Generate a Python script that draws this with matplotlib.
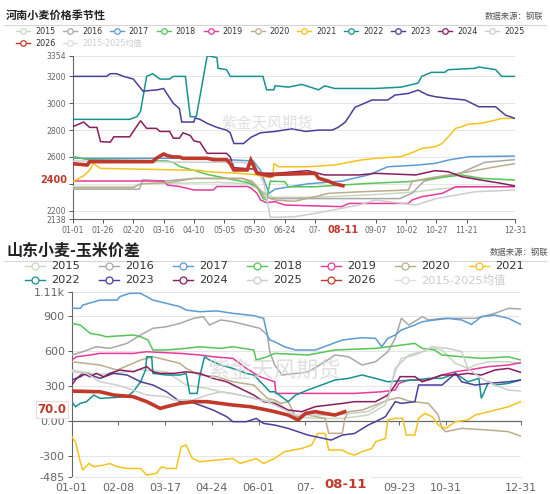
import matplotlib
matplotlib.use('Agg')
import matplotlib.pyplot as plt
import matplotlib.transforms as mtransforms
from matplotlib.lines import Line2D

plt.rcParams['font.family'] = ['DejaVu Sans', 'Noto Sans CJK SC']
plt.rcParams['axes.unicode_minus'] = False

# ---------------- data: (day of year, value) ----------------
YEARS = ['2015', '2016', '2017', '2018', '2019', '2020', '2021', '2022', '2023', '2024', '2025', '2026']
AVG_LABEL = '2015-2025均值'
YEAR_COLORS = ['#c6d9bf', '#a8a8a8', '#5b9bd5', '#55c555', '#e8399a', '#bcac8c',
               '#f6c21c', '#17928f', '#4a3e9b', '#8a1c5e', '#cdcdcd', '#c0392b']

# 河南小麦价格
HN_2015 = [(0, 2380), (50, 2380), (56, 2400), (120, 2410), (145, 2400), (155, 2350), (165, 2300),
           (200, 2300), (250, 2320), (283, 2340), (300, 2360), (330, 2380), (365, 2380)]
HN_2016 = [(0, 2360), (55, 2360), (58, 2430), (75, 2420), (100, 2440), (140, 2440), (150, 2400),
           (158, 2300), (167, 2290), (270, 2290), (280, 2330), (290, 2420), (320, 2480), (340, 2560), (365, 2580)]
HN_2017 = [(0, 2590), (115, 2590), (127, 2580), (149, 2570), (155, 2500), (162, 2330), (167, 2360),
           (194, 2400), (222, 2420), (244, 2466), (260, 2527), (285, 2540), (299, 2552), (310, 2577),
           (327, 2602), (365, 2607)]
HN_2018 = [(0, 2605), (12, 2580), (78, 2570), (83, 2560), (88, 2530), (100, 2500), (111, 2470),
           (122, 2450), (133, 2430), (144, 2410), (152, 2380), (157, 2290), (160, 2280), (163, 2420),
           (175, 2416), (178, 2378), (200, 2378), (222, 2391), (244, 2403), (277, 2416), (299, 2441),
           (321, 2466), (337, 2441), (365, 2428)]
HN_2019 = [(0, 2421), (75, 2421), (78, 2391), (88, 2380), (100, 2354), (116, 2354), (119, 2380),
           (144, 2380), (147, 2370), (152, 2330), (155, 2280), (160, 2260), (167, 2267), (175, 2242),
           (222, 2230), (228, 2254), (277, 2254), (280, 2279), (288, 2304), (305, 2329), (316, 2378), (365, 2378)]
HN_2020 = [(0, 2370), (50, 2370), (56, 2400), (80, 2410), (100, 2440), (140, 2440), (148, 2420),
           (152, 2380), (157, 2330), (163, 2290), (167, 2279), (183, 2270), (200, 2304), (211, 2329),
           (238, 2341), (277, 2354), (280, 2416), (293, 2441), (310, 2466), (327, 2490), (349, 2527), (365, 2550)]
HN_2021 = [(0, 2416), (9, 2460), (14, 2500), (17, 2552), (23, 2515), (105, 2500), (111, 2490),
           (133, 2480), (149, 2470), (160, 2450), (165, 2450), (166, 2552), (170, 2527), (194, 2527),
           (216, 2540), (238, 2577), (250, 2590), (271, 2602), (282, 2639), (288, 2664), (299, 2676),
           (305, 2701), (310, 2751), (316, 2813), (321, 2825), (327, 2845), (337, 2850), (349, 2875),
           (354, 2887), (365, 2887)]
HN_2022 = [(0, 2880), (47, 2880), (53, 2900), (56, 2940), (61, 3200), (66, 3220), (72, 3180),
           (80, 3180), (83, 3200), (93, 3200), (97, 2900), (102, 2900), (105, 3050), (111, 3354),
           (119, 3340), (120, 3260), (127, 3250), (130, 3200), (157, 3200), (160, 3100), (166, 3100),
           (167, 3130), (178, 3120), (189, 3140), (203, 3100), (208, 3130), (216, 3110), (250, 3110),
           (271, 3120), (285, 3150), (288, 3200), (296, 3230), (307, 3230), (310, 3250), (332, 3260),
           (335, 3270), (349, 3250), (354, 3200), (365, 3200)]
HN_2023 = [(0, 3200), (28, 3200), (31, 3220), (36, 3220), (42, 3200), (50, 3180), (58, 3090),
           (70, 3100), (75, 3110), (80, 3040), (83, 3000), (88, 2960), (90, 2860), (100, 2860),
           (101, 2890), (105, 2880), (111, 2850), (119, 2820), (127, 2800), (130, 2780), (133, 2700),
           (141, 2700), (147, 2746), (155, 2780), (167, 2790), (181, 2810), (192, 2790), (203, 2800),
           (214, 2800), (219, 2820), (225, 2860), (233, 2970), (247, 3024), (260, 3024), (266, 3061),
           (277, 3073), (285, 3098), (293, 3061), (299, 3049), (310, 3036), (324, 3024), (335, 2974),
           (349, 2974), (357, 2912), (365, 2887)]
HN_2024 = [(0, 2825), (9, 2860), (14, 2820), (20, 2820), (23, 2714), (31, 2710), (34, 2750),
           (47, 2750), (56, 2870), (61, 2813), (69, 2813), (72, 2790), (80, 2790), (83, 2740),
           (88, 2740), (91, 2780), (97, 2760), (100, 2720), (105, 2710), (111, 2627), (127, 2627),
           (130, 2600), (133, 2520), (149, 2510), (155, 2480), (167, 2478), (194, 2498), (208, 2466),
           (236, 2466), (250, 2478), (283, 2466), (299, 2498), (310, 2490), (321, 2453), (337, 2428),
           (354, 2403), (365, 2384)]
HN_2025 = [(0, 2570), (60, 2565), (100, 2560), (140, 2560), (150, 2540), (158, 2400), (163, 2150),
           (183, 2155), (200, 2180), (236, 2242), (250, 2279), (283, 2242), (300, 2290), (332, 2341), (365, 2354)]
HN_2026 = [(0, 2550), (12, 2540), (14, 2565), (66, 2565), (69, 2590), (75, 2622), (78, 2610),
           (83, 2600), (88, 2600), (91, 2590), (111, 2590), (116, 2580), (127, 2580), (130, 2550),
           (133, 2503), (144, 2503), (147, 2577), (149, 2540), (152, 2480), (157, 2470), (163, 2460),
           (167, 2470), (200, 2478), (203, 2441), (211, 2420), (216, 2400), (223, 2386)]

# 山东小麦-玉米价差
SD_2015 = [(0, 437), (15, 410), (23, 400), (45, 422), (56, 437), (77, 422), (93, 308), (110, 279),
           (121, 250), (131, 236), (148, 193), (165, 165), (170, 136), (182, 36), (198, 21), (220, 21),
           (241, 50), (255, 136), (263, 422), (268, 537), (279, 566), (285, 594), (293, 623), (301, 609),
           (312, 494), (322, 451), (328, 480), (339, 508), (355, 508), (365, 494)]
SD_2016 = [(0, 566), (9, 594), (20, 637), (31, 623), (45, 666), (56, 738), (66, 795), (77, 809),
           (88, 838), (99, 881), (107, 895), (112, 824), (121, 867), (131, 852), (142, 824), (153, 795),
           (159, 738), (161, 594), (165, 480), (171, 394), (192, 420), (206, 508), (214, 566), (225, 551),
           (236, 480), (247, 508), (257, 594), (263, 709), (268, 881), (274, 824), (285, 895), (290, 867),
           (301, 881), (328, 881), (344, 924), (355, 967), (365, 961)]
SD_2017 = [(0, 967), (7, 967), (9, 995), (23, 1038), (37, 1038), (39, 1067), (47, 1096), (56, 1096),
           (61, 1067), (66, 1038), (77, 1010), (88, 981), (93, 952), (104, 938), (118, 945), (131, 924),
           (148, 904), (156, 881), (159, 738), (161, 695), (165, 680), (173, 637), (182, 609), (198, 609),
           (209, 652), (220, 695), (236, 715), (247, 709), (252, 637), (257, 709), (263, 738), (268, 781),
           (279, 824), (285, 852), (295, 867), (306, 881), (317, 867), (325, 829), (333, 895), (344, 909),
           (355, 881), (365, 829)]
SD_2018 = [(0, 838), (7, 823), (15, 752), (23, 738), (28, 723), (50, 738), (56, 723), (62, 695),
           (66, 609), (77, 609), (93, 623), (104, 637), (121, 623), (131, 637), (148, 609), (150, 523),
           (159, 551), (165, 580), (192, 566), (214, 609), (247, 623), (279, 666), (285, 623), (295, 609),
           (301, 566), (317, 551), (333, 537), (355, 551), (365, 523)]
SD_2019 = [(0, 523), (4, 551), (15, 566), (23, 580), (50, 580), (61, 594), (88, 580), (104, 566),
           (115, 551), (131, 537), (142, 451), (153, 379), (165, 336), (166, 236), (230, 236), (252, 250),
           (263, 265), (266, 322), (274, 351), (290, 351), (301, 394), (312, 422), (322, 437), (339, 466),
           (355, 480), (365, 500)]
SD_2020 = [(0, 508), (23, 480), (37, 437), (56, 523), (66, 551), (77, 523), (88, 494), (93, 451),
           (104, 394), (118, 380), (131, 336), (148, 308), (159, 193), (165, 179), (170, 150), (176, 165),
           (182, 36), (192, 50), (206, 21), (209, -107), (220, -107), (222, 21), (225, 79), (236, 93),
           (247, 136), (257, 179), (266, 200), (274, 170), (290, 150), (298, 50), (301, -65), (304, -93),
           (317, -65), (339, -79), (355, -93), (365, -131)]
SD_2021 = [(0, -136), (3, -179), (7, -351), (9, -423), (14, -366), (18, -394), (26, -380), (31, -366),
           (37, -394), (45, -409), (56, -409), (61, -466), (69, -450), (73, -394), (77, -409), (85, -409),
           (89, -222), (93, -208), (98, -323), (104, -351), (118, -337), (131, -323), (137, -366),
           (150, -323), (156, -366), (165, -323), (173, -265), (187, -237), (195, -208), (200, -108),
           (206, -108), (209, -251), (220, -251), (225, -280), (230, -294), (236, -265), (244, -237),
           (247, -179), (255, -151), (257, 8), (263, 22), (269, 22), (272, -122), (279, -122), (282, 22),
           (287, 64), (293, 36), (298, -36), (304, -65), (312, -7), (322, 8), (328, 50), (339, 79),
           (355, 121), (365, 165)]
SD_2022 = [(0, 165), (3, 122), (7, 150), (12, 165), (18, 222), (23, 193), (45, 208), (50, 250),
           (56, 336), (60, 437), (61, 551), (65, 551), (66, 408), (77, 394), (88, 394), (93, 408),
           (96, 236), (102, 236), (104, 379), (108, 551), (112, 523), (121, 480), (131, 451), (142, 408),
           (148, 394), (156, 308), (161, 250), (165, 250), (176, 165), (182, 222), (192, 265), (203, 308),
           (214, 351), (225, 365), (236, 394), (247, 365), (257, 336), (268, 345), (279, 351), (290, 365),
           (301, 365), (312, 408), (322, 336), (331, 365), (333, 193), (339, 336), (344, 308), (355, 322),
           (365, 351)]
SD_2023 = [(0, 351), (7, 379), (12, 408), (23, 365), (34, 408), (45, 394), (56, 336), (66, 308),
           (77, 250), (88, 165), (96, 165), (104, 136), (115, 93), (126, 36), (131, -7), (142, -7),
           (150, 21), (156, -22), (165, -36), (176, -65), (192, -122), (211, -165), (220, -122),
           (230, -108), (241, -36), (247, -7), (255, 36), (263, 165), (268, 150), (279, 165), (282, 308),
           (301, 308), (312, 408), (317, 336), (328, 308), (339, 322), (355, 336), (365, 351)]
SD_2024 = [(0, 308), (4, 365), (9, 408), (15, 379), (20, 408), (26, 379), (31, 408), (39, 437),
           (50, 422), (61, 466), (66, 422), (72, 408), (83, 408), (93, 422), (104, 408), (115, 365),
           (126, 336), (137, 279), (148, 222), (156, 165), (165, 150), (176, 93), (187, 79), (198, 122),
           (209, 136), (220, 150), (230, 165), (247, 165), (257, 222), (263, 308), (267, 380), (279, 380),
           (285, 336), (293, 365), (301, 394), (312, 394), (322, 408), (333, 394), (344, 437), (355, 451),
           (365, 417)]
SD_2025 = [(0, 422), (12, 408), (23, 336), (37, 308), (50, 265), (61, 222), (77, 208), (83, 179),
           (99, 179), (110, 222), (121, 250), (137, 222), (148, 193), (159, 165), (165, 136), (182, 50),
           (214, 50), (241, 80), (257, 180), (263, 451), (274, 566), (285, 595), (293, 637), (306, 623),
           (317, 595), (322, 451), (333, 365), (344, 308), (355, 265), (365, 256)]
SD_2026 = [(0, 256), (23, 250), (34, 222), (50, 208), (61, 165), (72, 107), (77, 122), (88, 150),
           (99, 165), (110, 165), (121, 150), (131, 136), (145, 122), (159, 93), (165, 79), (176, 50),
           (184, 7), (190, 64), (198, 79), (206, 64), (214, 50), (222, 79)]

HN_SERIES = [HN_2015, HN_2016, HN_2017, HN_2018, HN_2019, HN_2020,
             HN_2021, HN_2022, HN_2023, HN_2024, HN_2025, HN_2026]
SD_SERIES = [SD_2015, SD_2016, SD_2017, SD_2018, SD_2019, SD_2020,
             SD_2021, SD_2022, SD_2023, SD_2024, SD_2025, SD_2026]

HN_YTICKS = [2138, 2200, 2400, 2600, 2800, 3000, 3200, 3354]
HN_YLABELS = ['2138', '2200', '', '2600', '2800', '3000', '3200', '3354']
HN_XTICKS = [0, 25, 50, 75, 100, 125, 150, 175, 200, 250, 275, 300, 325, 365]
HN_XLABELS = ['01-01', '01-26', '02-20', '03-16', '04-10', '05-05', '05-30', '06-24', '07-',
              '09-07', '10-02', '10-27', '11-21', '12-31']
HN_LAST = 2400

SD_YTICKS = [-485, -300, 0, 300, 600, 900, 1110]
SD_YLABELS = ['-485', '-300', '0.00', '300', '600', '900', '1.11k']
SD_XTICKS = [0, 38, 76, 114, 152, 190, 266, 304, 365]
SD_XLABELS = ['01-01', '02-08', '03-17', '04-24', '06-01', '07-', '09-23', '10-31', '12-31']
SD_LAST = 70.0

TODAY_DAY = 223
TODAY_LABEL = '08-11'

W, H = 550, 494
fig = plt.figure(figsize=(W / 100, H / 100), dpi=100)


def fx(x):
    return x / W


def fy(y):
    return 1 - y / H


def header(title, ytitle, yline, tsize, src_x):
    fig.text(fx(6), fy(ytitle), title, fontsize=tsize, fontweight='bold', color='#222222',
             family=['Noto Sans CJK SC'], va='center', ha='left')
    fig.text(fx(src_x), fy(ytitle + 1), '数据来源：钢联', fontsize=6, color='#555555',
             family=['Noto Sans CJK SC'], va='center', ha='right')
    fig.add_artist(Line2D([fx(4), fx(546)], [fy(yline), fy(yline)], color='#d5d5d5', lw=0.8))


def legend(rows, x0, dx, text_off, half, fsize, msize):
    k = 0
    labels = YEARS + [AVG_LABEL]
    colors = YEAR_COLORS + ['#dddddd']
    for y, n in rows:
        for j in range(n):
            cx = x0 + dx * j
            c = colors[k]
            fig.add_artist(Line2D([fx(cx - half), fx(cx + half)], [fy(y), fy(y)], color=c, lw=1.0))
            fig.add_artist(Line2D([fx(cx)], [fy(y)], color=c, marker='o', markersize=msize,
                                  markerfacecolor='white', markeredgewidth=0.9, lw=0))
            tc = '#cccccc' if k == len(labels) - 1 else '#333333'
            fig.text(fx(cx + text_off), fy(y), labels[k], fontsize=fsize, color=tc, va='center', ha='left')
            k += 1


def draw_panel(ax, series, ylim, yticks, ylabels, xticks, xlabels, tick_fs, last_val,
               last_label, last_fs, last_box, wm_xy, wm_fs):
    ax.set_xlim(0, 365)
    ax.set_ylim(*ylim)
    for s, c, yr in zip(series, YEAR_COLORS, YEARS):
        d = [p[0] for p in s]
        v = [p[1] for p in s]
        lw = 2.6 if yr == '2026' else 1.1
        ax.plot(d, v, color=c, lw=lw, zorder=5 if yr == '2026' else 3, solid_joinstyle='miter')
    for t in yticks:
        ax.axhline(t, color='#e6e6e6', lw=0.7, zorder=0)
    ax.set_yticks(yticks)
    ax.set_yticklabels(ylabels)
    ax.set_xticks(xticks)
    ax.set_xticklabels(xlabels)
    ax.tick_params(axis='both', labelsize=tick_fs, colors='#555555', length=3, width=0.7,
                   labelcolor='#666666', pad=2)
    for side in ['top', 'right']:
        ax.spines[side].set_visible(False)
    ax.spines['left'].set_color('#666666')
    ax.spines['bottom'].set_color('#666666')
    trans = mtransforms.blended_transform_factory(ax.transAxes, ax.transData)
    trans = trans + mtransforms.ScaledTranslation(0, 2.5 / 72, fig.dpi_scale_trans)
    bbox = dict(boxstyle='square,pad=0.15', fc='white', ec='#ead0d0', lw=0.6) if last_box else None
    ax.text(-0.012, last_val, last_label, transform=trans, ha='right', va='center', color='#c0392b',
            fontsize=last_fs, fontweight='bold', bbox=bbox, zorder=6)
    ax.text(wm_xy[0], wm_xy[1], '紫金天风期货', transform=ax.transAxes, fontsize=wm_fs,
            color='#d8d8d8', family=['Noto Sans CJK SC'], ha='center', va='center', zorder=4, alpha=0.8)
    return ax


# -------- top panel --------
header('河南小麦价格季节性', 15, 25, 8, 543)
legend([(31, 11), (43.5, 2)], 23, 46.9, 12, 7, 5.8, 4)
ax1 = fig.add_axes([fx(72.7), fy(219), fx(515) - fx(72.7), fy(55.7) - fy(219)])
draw_panel(ax1, HN_SERIES, (2138, 3354), HN_YTICKS, HN_YLABELS, HN_XTICKS, HN_XLABELS,
           5.6, HN_LAST, str(HN_LAST), 7, False, (0.44, 0.585), 11)
ax1.text(TODAY_DAY, -0.065, TODAY_LABEL,
         transform=mtransforms.blended_transform_factory(ax1.transData, ax1.transAxes),
         ha='center', va='center', color='#c0392b', fontsize=7, fontweight='bold',
         bbox=dict(boxstyle='square,pad=0.3', fc='white', ec='none'))

# -------- bottom panel --------
header('山东小麦-玉米价差', 251, 260.5, 11.5, 548)
legend([(266, 7), (280, 6)], 35, 74, 16, 10, 8.2, 5)
ax2 = fig.add_axes([fx(71.7), fy(477.3), fx(520.7) - fx(71.7), fy(291.7) - fy(477.3)])
draw_panel(ax2, SD_SERIES, (-485, 1110), SD_YTICKS, SD_YLABELS, SD_XTICKS, SD_XLABELS,
           8, SD_LAST, f'{SD_LAST:.1f}', 8.5, True, (0.45, 0.57), 16)
ax2.spines['bottom'].set_color('#e6e6e6')
ax2.tick_params(axis='x', length=0, pad=4)
ax2.axhline(0, color='#666666', lw=0.8, zorder=2)
zero_frac = (0 + 485) / (1110 + 485)
sec = ax2.secondary_xaxis(zero_frac)
sec.set_xticks(SD_XTICKS)
sec.set_xticklabels([])
sec.spines['bottom'].set_color('#666666')
sec.tick_params(length=3, width=0.7, colors='#666666')
ax2.text(TODAY_DAY, -0.04, TODAY_LABEL,
         transform=mtransforms.blended_transform_factory(ax2.transData, ax2.transAxes),
         ha='center', va='center', color='#c0392b', fontsize=9.5, fontweight='bold',
         bbox=dict(boxstyle='square,pad=0.3', fc='white', ec='none'))

fig.savefig('out.png', dpi=100)
